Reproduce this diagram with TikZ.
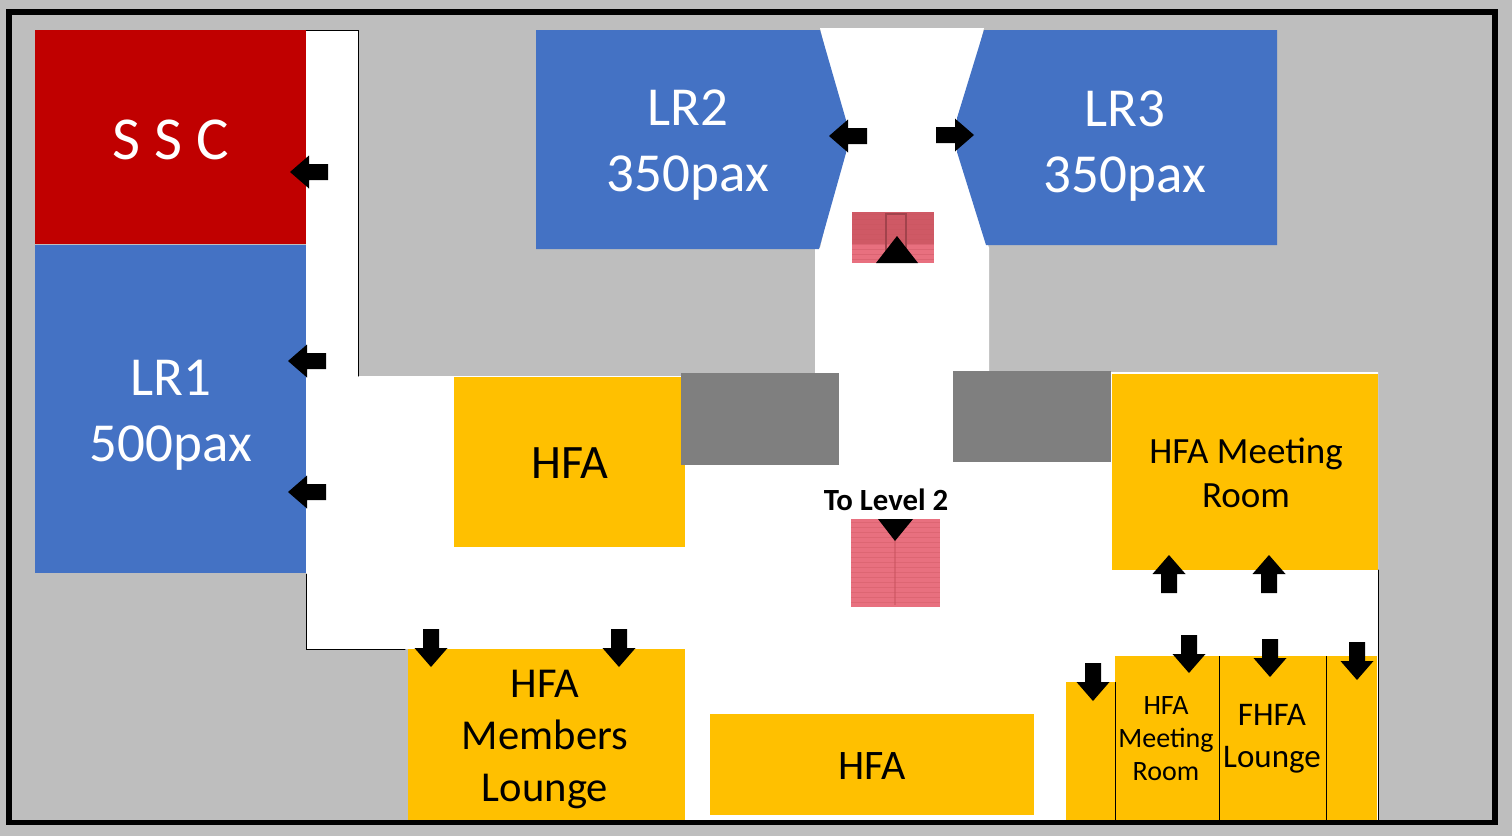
\documentclass[tikz,border=0pt]{standalone}
\usepackage{fontspec}
\setmainfont{Carlito}
\definecolor{bgG}{HTML}{BEBEBE}
\definecolor{blueR}{HTML}{4472C4}
\definecolor{redR}{HTML}{C00000}
\definecolor{goldR}{HTML}{FFC000}
\definecolor{greyR}{HTML}{7F7F7F}
\definecolor{stairA}{HTML}{E8707F}
\definecolor{stairB}{HTML}{C9545F}
\newcommand\blockarrow[3]{% tip x, tip y, rotation (0 = pointing down)
  \fill[black,shift={(#1,#2)},rotate=#3] (0,0) -- (-16.5,-19) -- (-8,-19) -- (-8,-38) -- (8,-38) -- (8,-19) -- (16.5,-19) -- cycle;}
\tikzset{
  lab/.style={align=center,inner sep=0pt,text=black},
  wlab/.style={align=center,inner sep=0pt,text=white},
  edgeline/.style={draw=black,line width=0.5pt,line cap=round},
  sepline/.style={draw=black,line width=0.5pt}
}
\begin{document}
\begin{tikzpicture}[x=0.5pt,y=-0.5pt]
\useasboundingbox (0,0) rectangle (1512,836);
\fill[bgG] (0,0) rectangle (1512,836);
% floor
\fill[white] (306,30) -- (358,30) -- (358,376) -- (815,376) -- (815,248) -- (820,248) -- (846,136) -- (820,28) -- (984,28) -- (957,136) -- (989,248) -- (989,372) -- (1378,372) -- (1378,820) -- (408,820) -- (408,649) -- (306,649) -- cycle;
\draw[edgeline] (306,30) -- (358,30) -- (358,376);
\draw[edgeline] (306,574) -- (306,649) -- (405,649);
\draw[edgeline] (1378,570) -- (1378,820);
% rooms
\fill[redR] (35,30) rectangle (306,244);
\fill[blueR] (35,245) rectangle (306,573);
\fill[blueR] (536,30) -- (820,30) -- (846,120) -- (846,153) -- (819,249) -- (536,249) -- cycle;
\fill[blueR] (984,30) -- (957,118) -- (957,152) -- (986,245) -- (1277,245) -- (1277,30) -- cycle;
\fill[goldR] (454,377) rectangle (685,547);
\fill[greyR] (681,373) rectangle (839,465);
\fill[greyR] (953,371) rectangle (1111,462);
\fill[goldR] (1112,374) rectangle (1378,570);
\fill[goldR] (408,649) rectangle (685,820);
\fill[goldR] (710,714) rectangle (1034,815);
\fill[goldR] (1066,682) rectangle (1115,821);
\fill[goldR] (1115,656) rectangle (1377,820);
\draw[sepline] (1115,682) -- (1115,820);
\draw[sepline] (1219,656) -- (1219,820);
\draw[sepline] (1326,656) -- (1326,820);
% stairs
\fill[stairA] (852,212) rectangle (934,263);
\fill[stairB,opacity=.8] (852,212) rectangle (934,244);
\foreach \n in {0,...,9}{\draw[stairB,opacity=.4,line width=0.5pt] (852,{214+5*\n}) -- (934,{214+5*\n});}
\draw[stairB!80!black,line width=1pt] (886,214) rectangle (906,250);
\fill[black] (876,263) -- (897,236) -- (918,263) -- cycle;
\fill[stairA] (851,519) rectangle (940,607);
\foreach \n in {0,...,16}{\draw[stairB,opacity=.35,line width=0.5pt] (851,{522+5*\n}) -- (940,{522+5*\n});}
\draw[stairB,opacity=.5,line width=1pt] (895,540) -- (895,605);
\fill[black] (878,519) -- (913,519) -- (895,541) -- cycle;
% arrows
\blockarrow{290}{172}{-90}
\blockarrow{288}{361}{-90}
\blockarrow{288}{492}{-90}
\blockarrow{829}{136}{-90}
\blockarrow{974}{135}{90}
\blockarrow{1169}{555}{180}
\blockarrow{1269}{555}{180}
\blockarrow{431}{667}{0}
\blockarrow{619}{667}{0}
\blockarrow{1189}{673}{0}
\blockarrow{1270}{677}{0}
\blockarrow{1357}{680}{0}
\blockarrow{1093}{701}{0}
% labels
\node[wlab,font=\fontsize{30.5}{30.5}\selectfont] (ssc) at (171,140) {S S C};
\node[wlab,font=\fontsize{27.5}{33}\selectfont] (lr1) at (171,415) {LR1\\500pax};
\node[wlab,font=\fontsize{27.5}{33}\selectfont] (lr2) at (688,145) {LR2\\350pax};
\node[wlab,font=\fontsize{27.5}{33}\selectfont] (lr3) at (1125,146) {LR3\\350pax};
\node[lab,font=\fontsize{24}{24}\selectfont] (hfaA) at (570,463) {HFA};
\node[lab,font=\fontsize{18.5}{22}\selectfont] (hfaM) at (1246,473) {HFA Meeting\\Room};
\node[lab,font=\fontsize{21.3}{26}\selectfont] (hfaL) at (545,739) {HFA\\Members\\Lounge};
\node[lab,font=\fontsize{21}{21}\selectfont] (hfaB) at (872,766) {HFA};
\node[lab,font=\fontsize{14}{16.5}\selectfont] (hfaS) at (1166,739) {HFA\\Meeting\\Room};
\node[lab,font=\fontsize{16.5}{21}\selectfont] (fhfa) at (1272,739) {FHFA\\Lounge};
\node[lab,font=\fontsize{15.4}{15.4}\selectfont\bfseries] (lvl) at (886,500) {To Level 2};
% frame
\draw[black,line width=2.75pt] (9,12) rectangle (1495,822.5);
\end{tikzpicture}
\end{document}
